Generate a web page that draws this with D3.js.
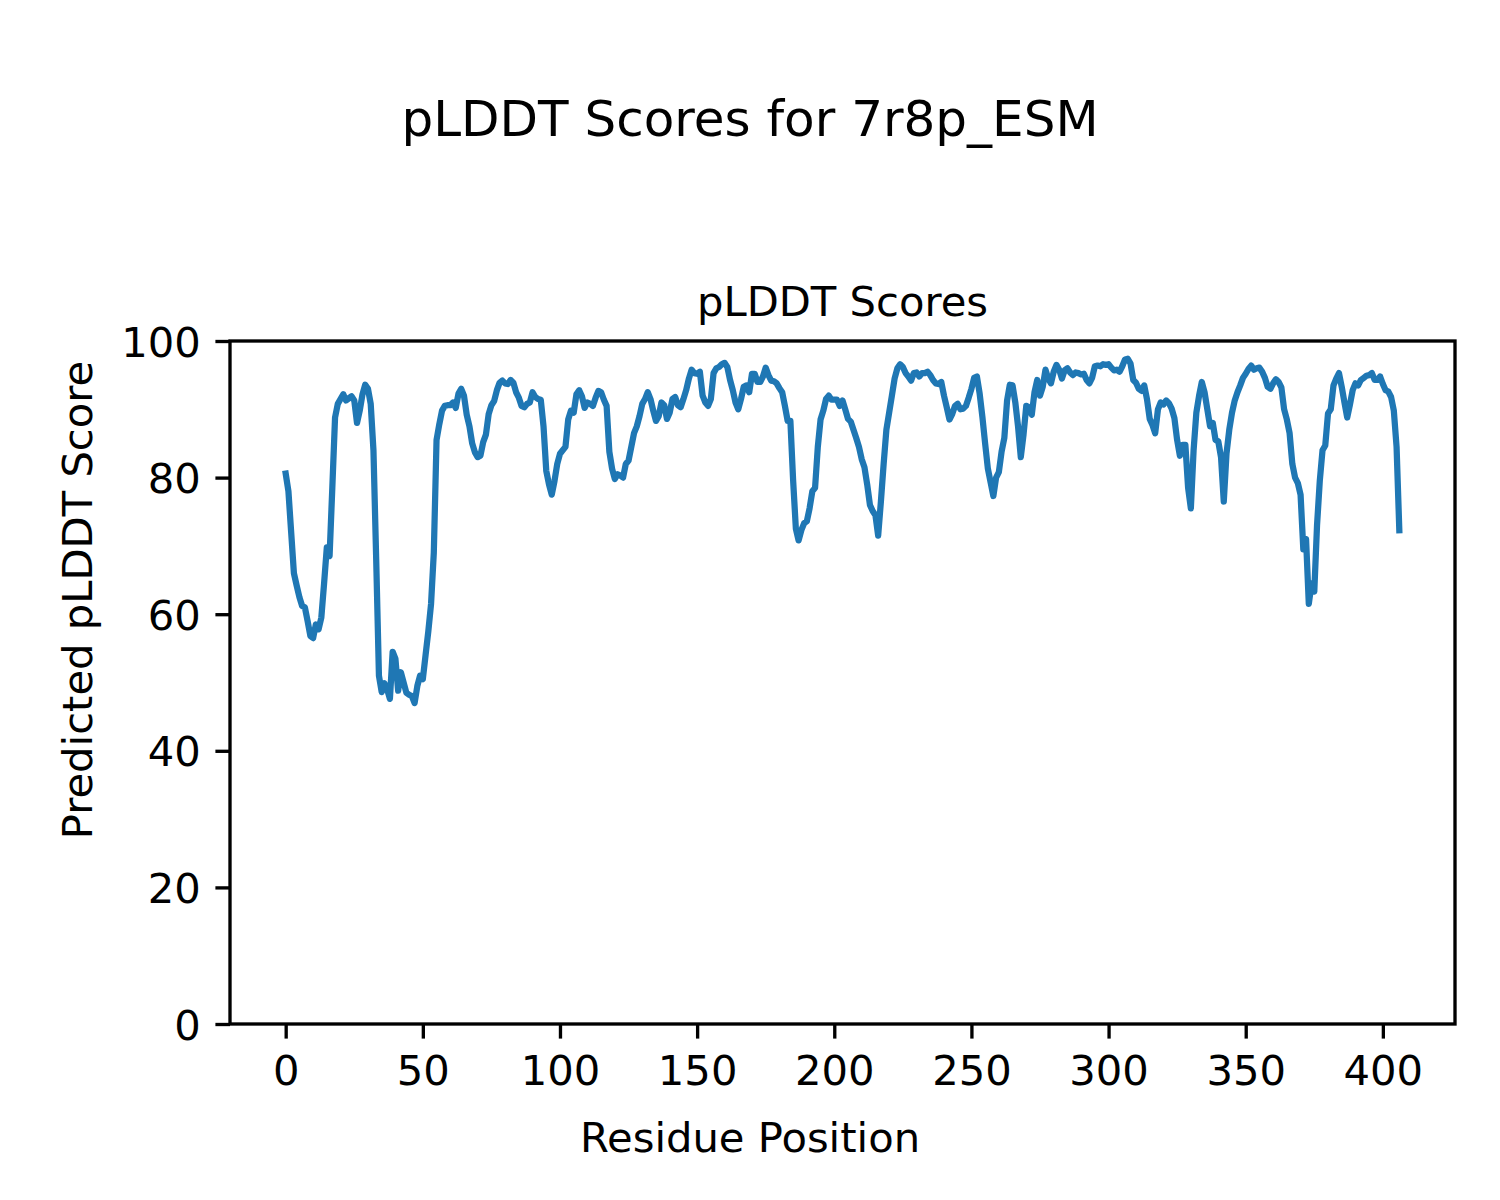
<!DOCTYPE html>
<html>
<head>
<meta charset="utf-8">
<script src="https://cdn.jsdelivr.net/npm/d3@7"></script>
<style>
  html, body { margin: 0; padding: 0; background: #ffffff; }
  svg { display: block; }
  text { font-family: "DejaVu Sans", sans-serif; fill: #000; }
</style>
</head>
<body>
<script>
// ---- Data ----
const suptitle = "pLDDT Scores for 7r8p_ESM";
const axesTitle = "pLDDT Scores";
const xLabel = "Residue Position";
const yLabel = "Predicted pLDDT Score";
const xTicks = [0, 50, 100, 150, 200, 250, 300, 350, 400];
const yTicks = [0, 20, 40, 60, 80, 100];

// pLDDT per residue (index = residue position 0..406)
const plddt = [
  80.6, 78.0, 72.0, 66.0, 64.2, 62.5, 61.2, 61.0, 59.0, 56.8,
  56.5, 58.5, 57.8, 59.5, 64.5, 69.8, 68.5, 78.5, 88.8, 90.8,
  91.5, 92.2, 91.3, 91.6, 91.9, 91.3, 88.0, 89.8, 92.2, 93.6,
  93.0, 90.8, 84.0, 68.0, 51.0, 48.6, 49.9, 49.0, 47.6, 54.5,
  53.5, 48.8, 51.5, 50.0, 48.5, 48.2, 48.0, 47.0, 49.5, 51.0,
  50.5, 54.0, 57.5, 61.5, 69.0, 85.5, 87.8, 89.8, 90.5, 90.6,
  90.6, 91.0, 90.2, 92.3, 93.0, 92.0, 89.2, 87.5, 85.0, 83.7,
  83.0, 83.2, 85.2, 86.3, 89.3, 90.6, 91.2, 92.8, 93.9, 94.2,
  93.8, 93.7, 94.3, 93.9, 92.5, 91.7, 90.5, 90.3, 90.8, 91.0,
  92.5, 91.8, 91.5, 91.4, 87.5, 81.0, 79.0, 77.5, 79.5, 82.0,
  83.5, 84.0, 84.5, 88.5, 89.8, 89.5, 92.2, 92.8, 91.9, 90.2,
  91.0, 90.8, 90.5, 91.7, 92.7, 92.5, 91.4, 90.5, 83.8, 81.3,
  79.8, 80.5, 80.3, 80.0, 82.0, 82.5, 84.5, 86.5, 87.5, 89.0,
  90.8, 91.5, 92.5, 91.5, 89.8, 88.3, 89.0, 91.0, 90.6, 88.6,
  89.5, 91.5, 91.8, 90.6, 90.3, 91.5, 92.8, 94.5, 95.8, 95.3,
  95.2, 95.5, 92.0, 91.0, 90.5, 91.5, 95.3, 96.0, 96.2, 96.6,
  96.8, 96.2, 94.3, 92.8, 91.0, 90.0, 91.5, 93.3, 93.5, 92.5,
  95.2, 95.2, 94.0, 94.0, 94.8, 96.1, 95.0, 94.2, 94.1, 93.8,
  93.1, 92.5, 90.5, 88.3, 88.3, 79.6, 72.5, 70.8, 72.3, 73.3,
  73.6, 75.5, 78.0, 78.5, 84.5, 88.5, 89.8, 91.5, 92.0, 91.4,
  91.4, 91.4, 90.5, 91.3, 90.0, 88.6, 88.2, 87.0, 85.8, 84.5,
  82.7, 81.5, 79.0, 76.0, 75.1, 74.5, 71.5, 76.5, 82.0, 87.0,
  89.5, 92.0, 94.5, 96.0, 96.6, 96.2, 95.3, 94.8, 94.2, 95.3,
  95.4, 94.8, 95.3, 95.3, 95.5, 95.0, 94.3, 93.8, 93.7, 94.0,
  92.0, 90.3, 88.5, 89.3, 90.5, 90.8, 90.0, 90.1, 90.5, 91.7,
  93.0, 94.6, 94.8, 92.3, 88.9, 85.0, 81.3, 79.3, 77.3, 80.0,
  80.8, 83.8, 85.8, 91.3, 93.6, 93.5, 91.0, 87.5, 83.0, 86.3,
  90.5, 90.3, 89.2, 92.5, 94.3, 92.0, 93.3, 95.8, 94.5, 93.8,
  95.5, 96.5, 95.8, 94.5, 95.7, 96.0, 95.4, 95.0, 95.4, 95.3,
  95.1, 95.2, 94.3, 93.8, 94.6, 96.3, 96.4, 96.3, 96.6, 96.5,
  96.6, 96.1, 95.7, 95.8, 95.5, 96.3, 97.3, 97.4, 96.7, 94.3,
  93.9, 93.0, 92.7, 93.5, 91.5, 88.6, 87.7, 86.5, 90.0, 91.0,
  90.7, 91.3, 90.9, 90.1, 88.7, 85.5, 83.2, 84.8, 84.8, 78.5,
  75.5, 84.0, 89.5, 92.0, 94.0, 92.5, 90.0, 87.5, 88.0, 85.5,
  85.3, 83.0, 76.5, 83.5, 87.0, 89.5, 91.3, 92.5, 93.5, 94.6,
  95.2, 95.9, 96.4, 95.8, 96.0, 96.1, 95.5, 94.6, 93.3, 93.0,
  93.8, 94.4, 94.0, 93.2, 90.0, 88.5, 86.5, 82.0, 80.0, 79.2,
  77.5, 69.5, 71.0, 61.5, 64.5, 63.3, 73.0, 79.5, 84.0, 84.7,
  89.4, 90.0, 93.5, 94.5, 95.3, 93.3, 91.0, 88.8, 90.7, 92.8,
  93.8, 93.5, 94.3, 94.6, 94.9, 95.0, 95.3, 94.3, 94.3, 94.8,
  93.7, 92.8, 92.6, 91.8, 89.8, 84.5, 72.3
];
const residues = plddt.map((_, i) => i);

// ---- Layout ----
const W = 1500, H = 1200;
const plot = { left: 230, right: 1455, top: 341, bottom: 1024 };
const fontMain = 41.7, fontSup = 50;

const svg = d3.select("body").append("svg")
  .attr("width", W).attr("height", H)
  .attr("viewBox", `0 0 ${W} ${H}`);

svg.append("rect").attr("width", W).attr("height", H).attr("fill", "#fff");

const n = plddt.length - 1;
const pad = n * 0.05;
const x = d3.scaleLinear().domain([0 - pad, n + pad]).range([plot.left, plot.right]);
const y = d3.scaleLinear().domain([0, 100]).range([plot.bottom, plot.top]);

// Line
const line = d3.line().x((d, i) => x(residues[i])).y(d => y(d));
svg.append("path")
  .datum(plddt)
  .attr("d", line)
  .attr("fill", "none")
  .attr("stroke", "#1f77b4")
  .attr("stroke-width", 6.25)
  .attr("stroke-linejoin", "round")
  .attr("stroke-linecap", "square");

// Axes
const tickLen = 14.6, tickPad = 14.6, tickW = 3.33;
const xAxis = d3.axisBottom(x).tickValues(xTicks).tickSize(tickLen).tickPadding(tickPad).tickFormat(d3.format("d"));
const yAxis = d3.axisLeft(y).tickValues(yTicks).tickSize(tickLen).tickPadding(tickPad).tickFormat(d3.format("d"));

const gx = svg.append("g").attr("transform", `translate(0,${plot.bottom})`).call(xAxis);
const gy = svg.append("g").attr("transform", `translate(${plot.left},0)`).call(yAxis);
[gx, gy].forEach(g => {
  g.select(".domain").remove();
  g.selectAll(".tick line").attr("stroke", "#000").attr("stroke-width", tickW);
  g.selectAll(".tick text")
    .attr("font-family", "DejaVu Sans, sans-serif")
    .attr("font-size", fontMain)
    .attr("fill", "#000");
});
gx.selectAll(".tick text").attr("dy", "0.76em");
gy.selectAll(".tick text").attr("dy", "0.36em");

// Frame (spines)
svg.append("rect")
  .attr("x", plot.left).attr("y", plot.top)
  .attr("width", plot.right - plot.left).attr("height", plot.bottom - plot.top)
  .attr("fill", "none").attr("stroke", "#000").attr("stroke-width", tickW);

// Titles (figure-level suptitle and labels centered on the figure)
svg.append("text").attr("x", W / 2).attr("y", 136)
  .attr("text-anchor", "middle").attr("font-size", fontSup).text(suptitle);
svg.append("text").attr("x", (plot.left + plot.right) / 2).attr("y", 316)
  .attr("text-anchor", "middle").attr("font-size", fontMain).text(axesTitle);
svg.append("text").attr("x", W / 2).attr("y", 1152)
  .attr("text-anchor", "middle").attr("font-size", fontMain).text(xLabel);
svg.append("text")
  .attr("transform", `translate(92,${H / 2}) rotate(-90)`)
  .attr("text-anchor", "middle").attr("font-size", fontMain).text(yLabel);
</script>
</body>
</html>
